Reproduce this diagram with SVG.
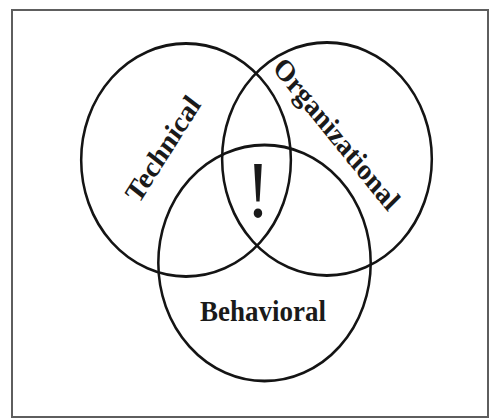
<svg xmlns="http://www.w3.org/2000/svg" width="489" height="419" viewBox="0 0 489 419">
<style>
.ring{fill:none;stroke:#141414;stroke-width:2.8}
.lbl{font-family:"Liberation Serif","Times New Roman",serif;font-weight:bold;font-size:30px;fill:#1a1a1a;text-anchor:middle}
.bang{font-family:"Liberation Serif","Times New Roman",serif;font-size:80px;fill:#1a1a1a;text-anchor:middle}
</style>
<rect width="489" height="419" fill="#ffffff"/>
<rect id="frame" x="12" y="10" width="476" height="407" fill="none" stroke="#5e5e5e" stroke-width="2"/>
<g transform="matrix(0.9 0 0 1 0 0)">
  <g id="technical">
    <circle class="ring" cx="206.7" cy="160" r="116.5"/>
    <text class="lbl" transform="translate(181 149) rotate(-55)" dy="0.33em" font-size="33">Technical</text>
  </g>
  <g id="organizational">
    <circle class="ring" cx="363.3" cy="159" r="116.5"/>
    <text class="lbl" transform="translate(374 134) rotate(48)" dy="0.33em">Organizational</text>
  </g>
  <g id="behavioral">
    <circle class="ring" cx="293.9" cy="263" r="118"/>
    <text class="lbl" x="292.2" y="321" font-size="29">Behavioral</text>
  </g>
  <g id="center">
    <text class="bang" x="286.7" y="217">!</text>
  </g>
</g>
</svg>
